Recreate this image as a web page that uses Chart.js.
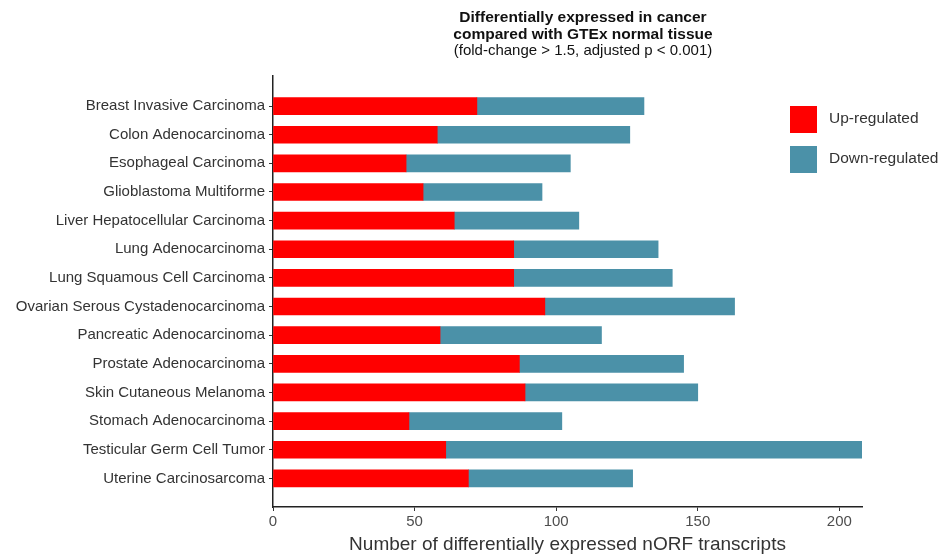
<!DOCTYPE html>
<html>
<head>
<meta charset="utf-8">
<script src="https://cdn.jsdelivr.net/npm/chart.js@4.4.1/dist/chart.umd.min.js"></script>
<style>
  html, body { margin: 0; padding: 0; background: #fff; }
  #wrap { width: 939px; height: 556px; }
</style>
</head>
<body>
<div id="wrap"><canvas id="degChart" width="939" height="556"></canvas></div>
<script>
const categories = [
    'Breast Invasive Carcinoma',
    'Colon Adenocarcinoma',
    'Esophageal Carcinoma',
    'Glioblastoma Multiforme',
    'Liver Hepatocellular Carcinoma',
    'Lung Adenocarcinoma',
    'Lung Squamous Cell Carcinoma',
    'Ovarian Serous Cystadenocarcinoma',
    'Pancreatic Adenocarcinoma',
    'Prostate Adenocarcinoma',
    'Skin Cutaneous Melanoma',
    'Stomach Adenocarcinoma',
    'Testicular Germ Cell Tumor',
    'Uterine Carcinosarcoma'
];
const upRegulated   = [72, 58, 47, 53, 64, 85, 85, 96, 59, 87, 89, 48, 61, 69];
const downRegulated = [59, 68, 58, 42, 44, 51, 56, 67, 57, 58, 61, 54, 147, 58];
const xTicks = [0, 50, 100, 150, 200];

const titleLines = ['Differentially expressed in cancer', 'compared with GTEx normal tissue'];
const subTitle = '(fold-change > 1.5, adjusted p < 0.001)';

const FONT = "'Liberation Sans', Arial, Helvetica, sans-serif";
const RED = '#ff0000';
const TEAL = '#4b91a8';

// title + legend drawn by hand, ggplot style
const decor = {
    id: 'decor',
    afterDraw(chart) {
        const c = chart.ctx;
        c.save();
        c.fillStyle = '#111';
        c.textAlign = 'center';
        c.textBaseline = 'middle';
        c.font = 'bold 15.5px ' + FONT;
        c.fillText(titleLines[0], 583, 18);
        c.fillText(titleLines[1], 583, 35);
        c.font = '15px ' + FONT;
        c.fillText(subTitle, 583, 51);

        c.textAlign = 'left';
        chart.data.datasets.forEach((ds, i) => {
            const y = 106 + i * 40;
            c.fillStyle = ds.backgroundColor;
            c.fillRect(790, y, 27, 27);
            c.fillStyle = '#333';
            c.font = '15.5px ' + FONT;
            c.fillText(ds.label, 829, y + 13);
        });
        c.restore();
    }
};

new Chart(document.getElementById('degChart'), {
    type: 'bar',
    data: {
        datasets: [
            { label: 'Up-regulated', data: upRegulated.map((v, i) => ({ x: v, y: i })), backgroundColor: RED },
            { label: 'Down-regulated', data: downRegulated.map((v, i) => ({ x: v, y: i })), backgroundColor: TEAL }
        ]
    },
    options: {
        indexAxis: 'y',
        responsive: false,
        animation: false,
        barThickness: 17,
        layout: { padding: { top: 76, right: 77, bottom: 0, left: 0 } },
        plugins: { legend: { display: false }, tooltip: { enabled: false } },
        scales: {
            x: {
                type: 'linear',
                stacked: true,
                min: 0,
                max: 208,
                afterBuildTicks: s => { s.ticks = xTicks.map(v => ({ value: v })); },
                afterFit: s => { s.height = 49; },
                grid: { drawOnChartArea: false, drawTicks: true, tickLength: 4, color: '#333' },
                border: { color: '#222', width: 1.5 },
                ticks: { color: '#4d4d4d', font: { family: FONT, size: 15 }, padding: 2 },
                title: {
                    display: true,
                    text: 'Number of differentially expressed nORF transcripts',
                    color: '#333',
                    font: { family: FONT, size: 19 },
                    padding: { top: 0, bottom: 0 }
                }
            },
            y: {
                type: 'linear',
                stacked: true,
                reverse: true,
                offset: false,
                min: -1.05,
                max: 14,
                afterBuildTicks: s => { s.ticks = categories.map((_, i) => ({ value: i })); },
                afterFit: s => { s.width = 273; },
                grid: { offset: false, drawOnChartArea: false, drawTicks: true, tickLength: 4, color: '#333' },
                border: { color: '#222', width: 1.5 },
                ticks: {
                    color: '#333',
                    font: { family: FONT, size: 15 },
                    padding: 4,
                    callback: v => categories[v]
                }
            }
        }
    },
    plugins: [decor]
});
</script>
</body>
</html>
